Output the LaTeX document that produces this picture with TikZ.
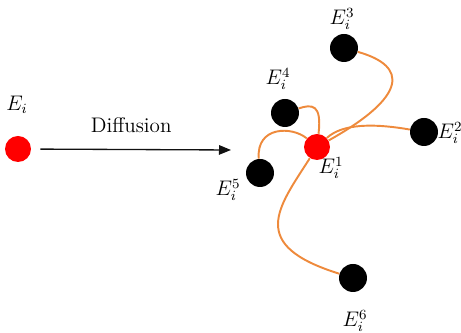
\documentclass[tikz,border=0pt]{standalone}
\usetikzlibrary{arrows.meta,positioning}
\definecolor{Hot}{HTML}{FF0000}
\definecolor{Ink}{HTML}{000000}
\definecolor{Wire}{HTML}{EE8A3C}
\definecolor{Arrow}{HTML}{111111}
\tikzset{
  seed/.style={
    circle, fill=Hot, minimum size=0.52cm, inner sep=0pt
  },
  agent/.style={
    circle, fill=Ink, minimum size=0.56cm, inner sep=0pt
  },
  tag/.style={inner sep=0pt, font=\large},
  wire/.style={draw=Wire, line width=1.1pt},
  push/.style={-{Triangle[length=2.4mm,width=1.9mm]}, line width=0.75pt, draw=Arrow}
}
\begin{document}
\begin{tikzpicture}[x=0.02cm,y=-0.02cm]
  \useasboundingbox (0,0) rectangle (461,333);
  % before diffusion
  \node[seed] (src) at (18,149) {};
  \node[tag] (lsrc) at (17,105) {$E_i$};
  \coordinate (diffend) at (231,150);
  \draw[push, shorten <=0.18cm] (src) -- (diffend)
    node[midway, above=6pt, font=\large] (ldiff) {Diffusion};
  % after diffusion
  \node[seed] (e1) at (317,147) {};
  \node[agent] (e2) at (424,132) {};
  \node[agent] (e3) at (344,48) {};
  \node[agent] (e4) at (285,113) {};
  \node[agent] (e5) at (260,173) {};
  \node[agent] (e6) at (353,278) {};
  \node[tag] (l1) at (331,168) {$E_i^1$};
  \node[tag] (l2) at (450,133) {$E_i^2$};
  \node[tag] (l3) at (342,19) {$E_i^3$};
  \node[tag] (l4) at (278,79) {$E_i^4$};
  \node[tag] (l5) at (228,190) {$E_i^5$};
  \node[tag] (l6) at (355,321) {$E_i^6$};
  \begin{scope}[wire]
    \draw (e3) .. controls (408,66) and (408,96) .. (e1);
    \draw (e2) .. controls (372,123) and (342,124) .. (e1);
    \draw (e4) .. controls (312,104) and (322,104) .. (e1);
    \draw (e5) .. controls (256,126) and (292,126) .. (e1);
    \draw (e1) .. controls (278,208) and (247,245) .. (e6);
  \end{scope}
\end{tikzpicture}
\end{document}
